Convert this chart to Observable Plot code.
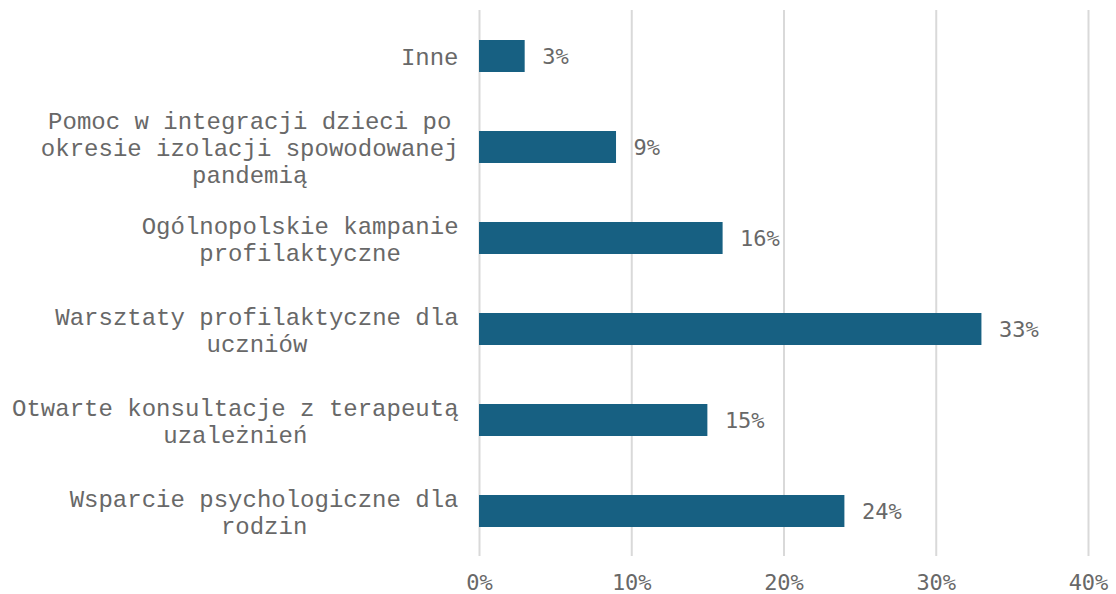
<!DOCTYPE html>
<html>
<head>
<meta charset="utf-8">
<script src="https://cdn.jsdelivr.net/npm/d3@7"></script>
<script src="https://cdn.jsdelivr.net/npm/@observablehq/plot@0.6"></script>
<style>
  html, body { margin: 0; padding: 0; background: #fff; }
</style>
</head>
<body>
<div id="chart"></div>
<script>
const categories = [
  "Inne",
  "Pomoc w integracji dzieci po\nokresie izolacji spowodowanej\npandemią",
  "Ogólnopolskie kampanie\nprofilaktyczne",
  "Warsztaty profilaktyczne dla\nuczniów",
  "Otwarte konsultacje z terapeutą\nuzależnień",
  "Wsparcie psychologiczne dla\nrodzin"
];
const values = [3, 9, 16, 33, 15, 24];
const xTicks = [0, 10, 20, 30, 40];

const data = categories.map((c, i) => ({category: c, value: values[i]}));

const labelFont = "'Courier New', 'Liberation Mono', monospace";
const labelSize = 24;
const numFont = "'DejaVu Sans Mono', monospace";
const textColor = "#686868";
const barColor = "#176082";
const cell = labelSize * 0.6;
const gap = 21;

const categoryMarks = categories.map(c => {
  const maxLen = d3.max(c.split("\n"), l => l.length);
  return Plot.text([c], {
    y: d => d,
    text: d => d,
    frameAnchor: "left",
    textAnchor: "middle",
    lineAnchor: "middle",
    lineHeight: 1.125,
    dx: -gap - (maxLen * cell) / 2,
    fontFamily: labelFont,
    fontSize: labelSize,
    fill: textColor
  });
});

const chart = Plot.plot({
  width: 1116,
  height: 594,
  marginLeft: 479,
  marginRight: 28,
  marginTop: 10,
  marginBottom: 38,
  style: {fontFamily: numFont, fontSize: "22px", color: textColor, background: "#fff"},
  x: {domain: [0, 40], ticks: xTicks, label: null},
  y: {domain: categories, paddingInner: 0.65, paddingOuter: 0.325, label: null, axis: null},
  marks: [
    Plot.ruleX(xTicks, {stroke: "#d9d9d9", strokeWidth: 2}),
    Plot.barX(data, {x: "value", y: "category", fill: barColor}),
    Plot.text(data, {
      x: "value", y: "category", text: d => d.value + "%",
      textAnchor: "start", dx: 17,
      fontFamily: numFont, fontSize: 22, fill: textColor
    }),
    ...categoryMarks,
    Plot.axisX({
      ticks: xTicks, tickSize: 0, tickPadding: 18,
      tickFormat: d => d + "%",
      fontFamily: numFont, fontSize: 22, fill: textColor, label: null
    })
  ]
});

document.getElementById("chart").appendChild(chart);
</script>
</body>
</html>
